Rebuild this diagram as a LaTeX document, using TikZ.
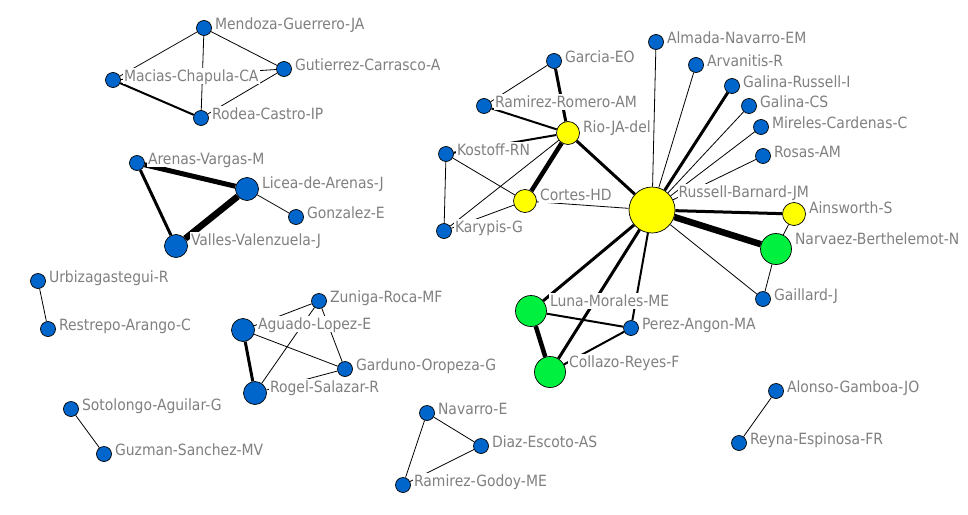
\documentclass[tikz,border=0pt]{standalone}
\usepackage{fontspec}
\setmainfont{DejaVu Sans Condensed}
\usepackage{tikz}
\usetikzlibrary{backgrounds}
\definecolor{nblue}{RGB}{0,102,204}
\definecolor{nyellow}{RGB}{255,255,0}
\definecolor{ngreen}{RGB}{0,240,64}
\definecolor{lgray}{RGB}{128,128,128}
\tikzset{
    vtx/.style={circle,draw=black,line width=0.7pt,inner sep=0pt},
    sb/.style={vtx,fill=nblue,minimum size=15pt},
    bb/.style={vtx,fill=nblue,minimum size=23pt},
    ym/.style={vtx,fill=nyellow,minimum size=23pt},
    gn/.style={vtx,fill=ngreen,minimum size=31pt},
    yb/.style={vtx,fill=nyellow,minimum size=46pt},
    lb/.style={anchor=base west,fill=white,text=lgray,inner xsep=1pt,
        inner ysep=1pt,text height=12.5pt,text depth=2pt,
        font=\fontsize{15.5}{17}\selectfont},
    lbs/.style={lb,yshift=-1pt},
    lbm/.style={lb,yshift=1pt},
    lbg/.style={lb,yshift=5pt},
    lby/.style={lb,yshift=13pt},
    w1/.style={line width=0.8pt},
    w2/.style={line width=2pt},
    w3/.style={line width=3pt},
    w4/.style={line width=4.5pt},
    w5/.style={line width=5pt},
    w6/.style={line width=6.5pt}
}

\begin{document}
\begin{tikzpicture}[x=1pt,y=-1pt,label distance=2pt]
    \useasboundingbox (0,0) rectangle (968,514);

    % upper left groups
    \node[sb,label={[lbs]0:Mendoza-Guerrero-JA}]  (mendoza)   at (204,28)  {};
    \node[sb,label={[lbs]0:Gutierrez-Carrasco-A}] (gutierrez) at (284,69)  {};
    \node[sb,label={[lbs]0:Macias-Chapula-CA}]    (macias)    at (113,80)  {};
    \node[sb,label={[lbs]0:Rodea-Castro-IP}]      (rodea)     at (201,118) {};
    \node[sb,label={[lbs]0:Arenas-Vargas-M}]      (arenas)    at (137,163) {};
    \node[bb,label={[lbm]0:Licea-de-Arenas-J}]    (licea)     at (247,189) {};
    \node[sb,label={[lbs]0:Gonzalez-E}]           (gonzalez)  at (296,217) {};
    \node[bb,label={[lbm]0:Valles-Valenzuela-J}]  (valles)    at (176,246) {};

    % lower left groups
    \node[sb,label={[lbs]0:Urbizagastegui-R}]     (urbiz)     at (38,281)  {};
    \node[sb,label={[lbs]0:Restrepo-Arango-C}]    (restrepo)  at (48,329)  {};
    \node[sb,label={[lbs]0:Zuniga-Roca-MF}]       (zuniga)    at (319,301) {};
    \node[bb,label={[lbm]0:Aguado-Lopez-E}]       (aguado)    at (243,330) {};
    \node[sb,label={[lbs]0:Garduno-Oropeza-G}]    (garduno)   at (345,369) {};
    \node[bb,label={[lbm]0:Rogel-Salazar-R}]      (rogel)     at (255,393) {};
    \node[sb,label={[lbs]0:Sotolongo-Aguilar-G}]  (sotolongo) at (71,409)  {};
    \node[sb,label={[lbs]0:Guzman-Sanchez-MV}]    (guzman)    at (104,454) {};
    \node[sb,label={[lbs]0:Navarro-E}]            (navarro)   at (427,413) {};
    \node[sb,label={[lbs]0:Diaz-Escoto-AS}]       (diaz)      at (481,446) {};
    \node[sb,label={[lbs]0:Ramirez-Godoy-ME}]     (ramgod)    at (403,485) {};
    \node[sb,label={[lbs]0:Alonso-Gamboa-JO}]     (alonso)    at (776,391) {};
    \node[sb,label={[lbs]0:Reyna-Espinosa-FR}]    (reyna)     at (739,443) {};

    % big component
    \node[sb,label={[lbs]0:Almada-Navarro-EM}]    (almada)    at (656,42)  {};
    \node[sb,label={[lbs]0:Garcia-EO}]            (garcia)    at (554,61)  {};
    \node[sb,label={[lbs]0:Arvanitis-R}]          (arvanitis) at (696,65)  {};
    \node[sb,label={[lbs]0:Galina-Russell-I}]     (galinari)  at (732,86)  {};
    \node[sb,label={[lbs]0:Galina-CS}]            (galinacs)  at (749,106) {};
    \node[sb,label={[lbs]0:Ramirez-Romero-AM}]    (ramrom)    at (484,106) {};
    \node[sb,label={[lbs]0:Mireles-Cardenas-C}]   (mireles)   at (761,127) {};
    \node[ym,label={[lbm]0:Rio-JA-del}]           (rio)       at (568,133) {};
    \node[sb,label={[lbs]0:Kostoff-RN}]           (kostoff)   at (446,154) {};
    \node[sb,label={[lbs]0:Rosas-AM}]             (rosas)     at (763,156) {};
    \node[ym,label={[lbm]0:Cortes-HD}]            (cortes)    at (525,201) {};
    \node[yb,label={[lby]0:Russell-Barnard-JM}]   (russell)   at (652,210) {};
    \node[ym,label={[lbm]0:Ainsworth-S}]          (ainsworth) at (794,214) {};
    \node[sb,label={[lbs]0:Karypis-G}]            (karypis)   at (444,231) {};
    \node[gn,label={[lbg]0:Narvaez-Berthelemot-N}] (narvaez)  at (776,249) {};
    \node[sb,label={[lbs]0:Gaillard-J}]           (gaillard)  at (763,299) {};
    \node[gn,label={[lbg]0:Luna-Morales-ME}]      (luna)      at (531,311) {};
    \node[sb,label={[lbs]0:Perez-Angon-MA}]       (perez)     at (631,328) {};
    \node[gn,label={[lbg]0:Collazo-Reyes-F}]      (collazo)   at (550,372) {};

    \begin{scope}[on background layer]
        \draw[w1] (mendoza) -- (macias) (mendoza) -- (gutierrez)
            (mendoza) -- (rodea) (macias) -- (gutierrez) (rodea) -- (gutierrez);
        \draw[w2] (macias) -- (rodea);
        \draw[w5] (arenas) -- (licea);
        \draw[w6] (licea) -- (valles);
        \draw[w3] (arenas) -- (valles);
        \draw[w1] (licea) -- (gonzalez);

        \draw[w1] (urbiz) -- (restrepo) (sotolongo) -- (guzman);
        \draw[w3] (aguado) -- (rogel);
        \draw[w1] (aguado) -- (zuniga) (aguado) -- (garduno) (rogel) -- (zuniga)
            (rogel) -- (garduno) (zuniga) -- (garduno);
        \draw[w1] (navarro) -- (diaz) (navarro) -- (ramgod) (diaz) -- (ramgod);
        \draw[w1] (alonso) -- (reyna);

        \draw[w1] (garcia) -- (ramrom) (rio) -- (karypis) (kostoff) -- (karypis)
            (kostoff) -- (cortes) (karypis) -- (cortes) (cortes) -- (russell);
        \draw[w3] (garcia) -- (rio) (rio) -- (russell);
        \draw[w2] (ramrom) -- (rio) (rio) -- (kostoff);
        \draw[w4] (rio) -- (cortes);

        \draw[w1] (russell) -- (almada) (russell) -- (arvanitis)
            (russell) -- (galinacs) (russell) -- (mireles) (russell) -- (rosas)
            (russell) -- (gaillard);
        \draw[w3] (russell) -- (galinari) (russell) -- (ainsworth)
            (russell) -- (luna) (russell) -- (collazo);
        \draw[w6] (russell) -- (narvaez);
        \draw[w2] (russell) -- (perez);
        \draw[w1] (ainsworth) -- (narvaez) (narvaez) -- (gaillard);
        \draw[w2] (luna) -- (perez) (collazo) -- (perez);
        \draw[w4] (luna) -- (collazo);
    \end{scope}
\end{tikzpicture}
\end{document}
